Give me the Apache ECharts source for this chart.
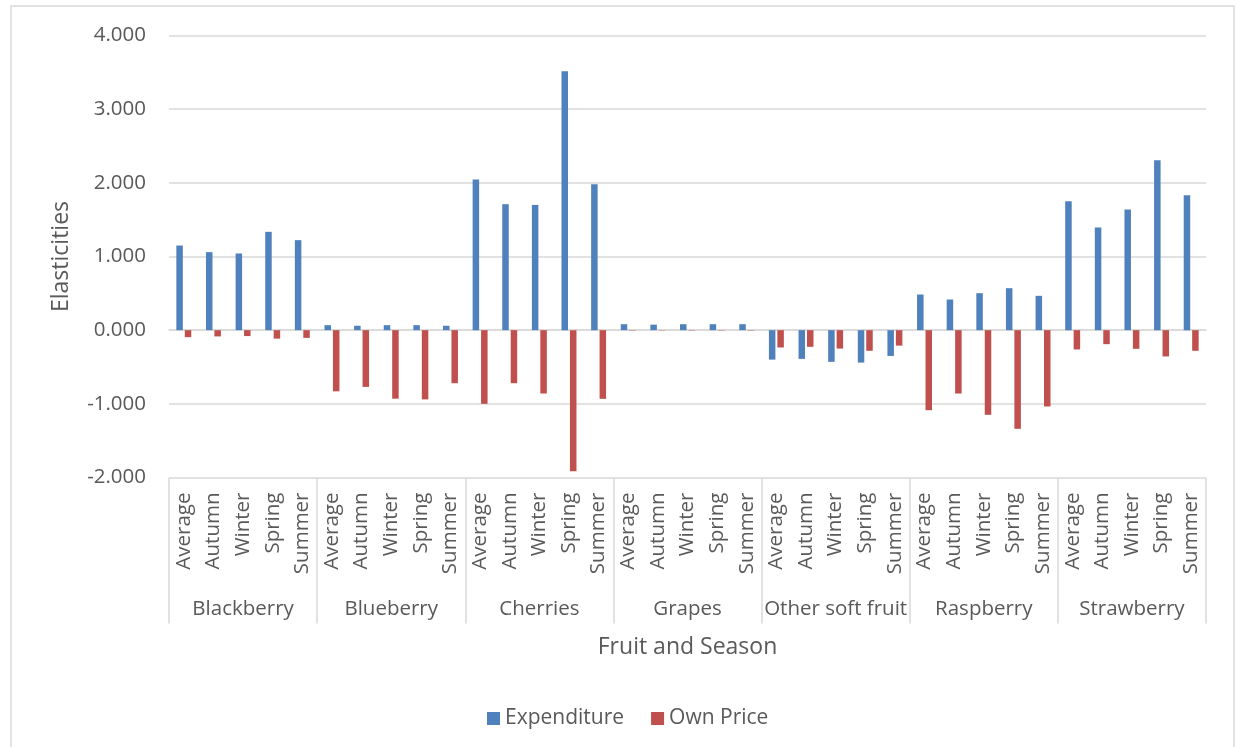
<!DOCTYPE html>
<html>
<head>
<meta charset="utf-8">
<title>Fruit elasticities by season</title>
<script src="https://cdn.jsdelivr.net/npm/echarts@6/dist/echarts.min.js"></script>
<style>
  html, body { margin: 0; padding: 0; background: #ffffff; }
  #chart { width: 1237px; height: 747px; }
</style>
</head>
<body>
<div id="chart"></div>
<script>
// Fruit groups and the seasons shown inside each group
const fruits = ['Blackberry', 'Blueberry', 'Cherries', 'Grapes', 'Other soft fruit', 'Raspberry', 'Strawberry'];
const seasons = ['Average', 'Autumn', 'Winter', 'Spring', 'Summer'];

// Expenditure elasticities, one row per fruit, in season order
const expenditure = [
  [1.149, 1.059, 1.041, 1.335, 1.222],
  [0.068, 0.060, 0.068, 0.068, 0.060],
  [2.045, 1.710, 1.700, 3.516, 1.982],
  [0.081, 0.075, 0.081, 0.081, 0.081],
  [-0.400, -0.390, -0.430, -0.440, -0.350],
  [0.484, 0.416, 0.502, 0.570, 0.466],
  [1.751, 1.394, 1.638, 2.308, 1.833]
];

// Own-price elasticities, same layout
const ownPrice = [
  [-0.095, -0.085, -0.080, -0.115, -0.105],
  [-0.830, -0.770, -0.930, -0.940, -0.720],
  [-1.000, -0.720, -0.860, -1.914, -0.932],
  [-0.005, -0.004, -0.005, -0.005, -0.005],
  [-0.235, -0.226, -0.250, -0.280, -0.210],
  [-1.086, -0.860, -1.149, -1.339, -1.036],
  [-0.262, -0.190, -0.253, -0.357, -0.280]
];

// Value axis ticks
const yMin = -2, yMax = 4, yStep = 1;

// Flatten into one category per fruit/season pair
const innerCats = [];
const expData = [];
const ownData = [];
fruits.forEach((f, i) => {
  seasons.forEach((s, j) => {
    innerCats.push(s);
    expData.push(expenditure[i][j]);
    ownData.push(ownPrice[i][j]);
  });
});

const textColor = '#595959';
const lineColor = '#d9d9d9';
const font = '"Open Sans", "Noto Sans", sans-serif';

const chart = echarts.init(document.getElementById('chart'), null, { renderer: 'canvas' });

chart.setOption({
  animation: false,
  backgroundColor: '#ffffff',
  textStyle: { fontFamily: font, color: textColor },
  graphic: [
    {
      type: 'rect',
      shape: { x: 11, y: 6, width: 1223, height: 760 },
      style: { fill: 'none', stroke: lineColor, lineWidth: 1.5 },
      silent: true
    }
  ],
  grid: { left: 169, right: 31, top: 35.5, bottom: 269.5, containLabel: false },
  legend: {
    top: 703,
    left: 482,
    itemWidth: 13,
    itemHeight: 13,
    itemGap: 27,
    icon: 'rect',
    textStyle: { fontFamily: font, fontSize: 21, color: textColor },
    data: ['Expenditure', 'Own Price']
  },
  xAxis: [
    {
      type: 'category',
      data: innerCats,
      position: 'bottom',
      axisLine: { show: true, lineStyle: { color: lineColor, width: 1.5 } },
      axisTick: { show: false },
      axisLabel: {
        interval: 0,
        rotate: 90,
        margin: 15,
        fontFamily: font,
        fontSize: 20.5,
        color: textColor
      }
    },
    {
      type: 'category',
      data: fruits,
      position: 'bottom',
      name: 'Fruit and Season',
      nameLocation: 'middle',
      nameGap: 158,
      nameTextStyle: { fontFamily: font, fontSize: 23, color: textColor },
      axisLine: { show: false },
      axisTick: { show: true, interval: 0, length: 146, lineStyle: { color: lineColor, width: 1.5 } },
      axisLabel: {
        interval: 0,
        margin: 121,
        fontFamily: font,
        fontSize: 20.5,
        color: textColor
      },
      splitLine: { show: false }
    }
  ],
  yAxis: {
    type: 'value',
    min: yMin,
    max: yMax,
    interval: yStep,
    name: 'Elasticities',
    nameLocation: 'middle',
    nameGap: 96,
    nameTextStyle: { fontFamily: font, fontSize: 23, color: textColor },
    axisLine: { show: false },
    axisTick: { show: false },
    axisLabel: {
      margin: 23,
      fontFamily: font,
      fontSize: 20.5,
      color: textColor,
      formatter: v => v.toFixed(3)
    },
    splitLine: { lineStyle: { color: lineColor, width: 1.5 } }
  },
  series: [
    {
      name: 'Expenditure',
      type: 'bar',
      xAxisIndex: 0,
      data: expData,
      barWidth: 6.5,
      barGap: '30%',
      itemStyle: { color: '#4f81bd' }
    },
    {
      name: 'Own Price',
      type: 'bar',
      xAxisIndex: 0,
      data: ownData,
      barWidth: 6.5,
      barGap: '30%',
      itemStyle: { color: '#c0504d' }
    }
  ]
});
</script>
</body>
</html>
